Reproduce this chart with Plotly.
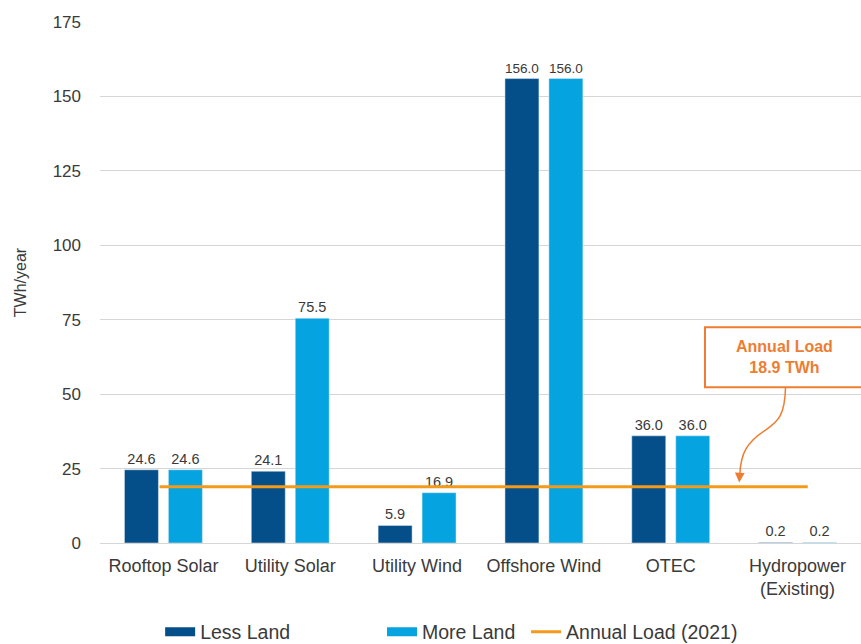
import plotly.graph_objects as go

categories = ["Rooftop Solar", "Utility Solar", "Utility Wind", "Offshore Wind", "OTEC", "Hydropower<br>(Existing)"]
less_land = [24.6, 24.1, 5.9, 156.0, 36.0, 0.2]
more_land = [24.6, 75.5, 16.9, 156.0, 36.0, 0.2]
annual_load = 18.9
load_x_span = [-0.03, 5.08]
y_ticks = [0, 25, 50, 75, 100, 125, 150, 175]

DARK = "#044f8a"
LIGHT = "#05a3e0"
ORANGE_LINE = "#f49a1a"
ORANGE = "#ee7d31"
TXT = "#3a3a3a"
FONT = "Liberation Sans, Arial, sans-serif"

x = list(range(len(categories)))

fig = go.Figure()
fig.add_trace(go.Bar(
    x=x, y=less_land, name="Less Land", marker_color=DARK, showlegend=False,
    text=[f"{v:.1f}" for v in less_land], textposition="outside",
    textfont=dict(size=14.5, color=TXT), cliponaxis=False,
))
fig.add_trace(go.Bar(
    x=x, y=more_land, name="More Land", marker_color=LIGHT, showlegend=False,
    text=[f"{v:.1f}" for v in more_land], textposition="outside",
    textfont=dict(size=14.5, color=TXT), cliponaxis=False,
))
fig.add_trace(go.Scatter(
    x=load_x_span, y=[annual_load, annual_load], mode="lines",
    name="Annual Load (2021)", line=dict(color=ORANGE_LINE, width=3), legend="legend3",
))
# legend swatches for bars
fig.add_trace(go.Scatter(x=[None], y=[None], mode="lines", name="Less Land",
                         line=dict(color=DARK, width=9), legend="legend"))
fig.add_trace(go.Scatter(x=[None], y=[None], mode="lines", name="More Land",
                         line=dict(color=LIGHT, width=9), legend="legend2"))

# Annotation box
fig.add_shape(type="rect", xref="x", yref="y", x0=4.27, x1=5.55, y0=52.3, y1=72.5,
              line=dict(color=ORANGE, width=2), fillcolor="white", layer="above")
fig.add_annotation(x=4.9, y=62.4, xref="x", yref="y", showarrow=False,
                   text="<b>Annual Load<br>18.9 TWh</b>",
                   font=dict(size=16, color=ORANGE, family=FONT), align="center")
# Curved arrow
fig.add_shape(type="path", xref="x", yref="y",
              path="M 4.905,52.3 C 4.9,43 4.85,41 4.75,38 C 4.6,34 4.55,30 4.545,23",
              line=dict(color=ORANGE, width=1.5))
fig.add_annotation(x=4.54, y=20.3, ax=4.545, ay=24, xref="x", yref="y",
                   axref="x", ayref="y", showarrow=True, arrowhead=2,
                   arrowsize=1.3, arrowwidth=1.5, arrowcolor=ORANGE, text="")

leg_common = dict(orientation="h", xref="container", yref="container",
                  y=0.0186, yanchor="middle", xanchor="left",
                  font=dict(size=19.5, color=TXT, family=FONT), bgcolor="rgba(0,0,0,0)",
                  itemwidth=30)

fig.update_layout(
    width=861, height=644,
    margin=dict(l=100, r=0, t=22, b=101, autoexpand=False),
    plot_bgcolor="white", paper_bgcolor="white",
    barmode="group", bargap=0.307, bargroupgap=0.227,
    font=dict(family=FONT, size=15, color=TXT),
    showlegend=True,
    legend=dict(x=0.186, **leg_common),
    legend2=dict(x=0.4437, **leg_common),
    legend3=dict(x=0.611, **leg_common),
    xaxis=dict(tickmode="array", tickvals=x, ticktext=categories,
               range=[-0.5, 5.5], showgrid=False, zeroline=False,
               tickfont=dict(size=18, color=TXT), showline=False,
               ticklabelstandoff=10, automargin=False),
    yaxis=dict(range=[0, 175], tickvals=y_ticks, showgrid=True,
               gridcolor="#d6d6d6", gridwidth=1, zeroline=True,
               zerolinecolor="#d6d6d6", zerolinewidth=1,
               tickfont=dict(size=17, color=TXT), ticklabelstandoff=18,
               automargin=False,
               title=dict(text="TWh/year", font=dict(size=16, color=TXT), standoff=22)),
)

fig.write_html("out.html")
